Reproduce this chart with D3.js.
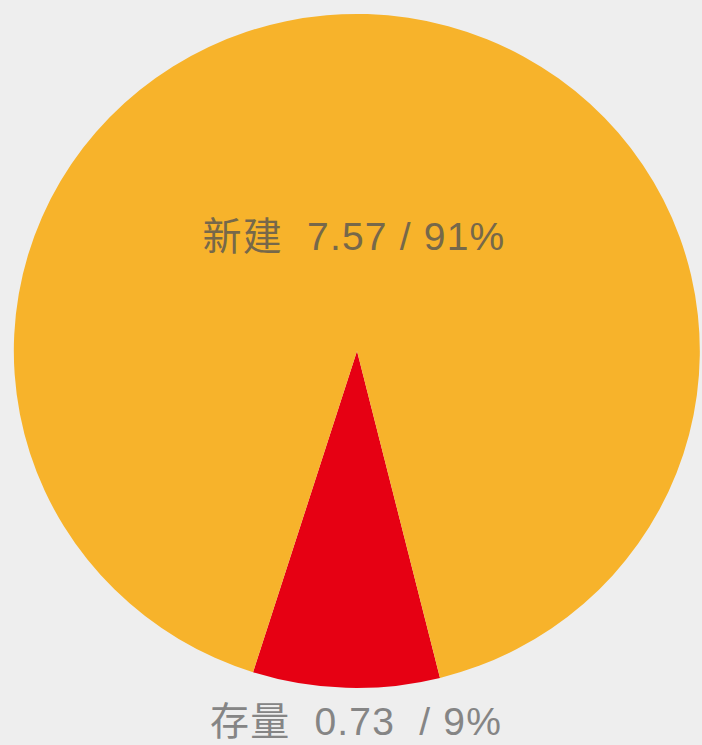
<!DOCTYPE html>
<html lang="zh">
<head>
  <meta charset="UTF-8">
  <title>新建 / 存量</title>
  <style>
    * { margin: 0; padding: 0; }
    body { background: #eeeeee; width: 702px; height: 745px; overflow: hidden; }
    svg { display: block; }
    .lbl { font-family: "Liberation Sans", Arial, "Noto Sans CJK SC", sans-serif; white-space: pre; text-anchor: middle; letter-spacing: 1.2px; }
  </style>
  <script src="https://cdn.jsdelivr.net/npm/d3@7/dist/d3.min.js"></script>
</head>
<body>
  <svg id="chart" width="702" height="745"></svg>
  <script>
    // data
    const categories = ['存量', '新建'];
    const values = [0.73, 7.57];
    const percents = ['9%', '91%'];
    const colors = ['#e60013', '#f7b32b'];

    const width = 702, height = 745;
    const cx = 357, cy = 351, rx = 343, ry = 337;

    const svg = d3.select('#chart');

    const pie = d3.pie().sort(null)
      .startAngle(166 * Math.PI / 180)
      .endAngle(166 * Math.PI / 180 + 2 * Math.PI);
    const arcs = pie(values);
    const arc = d3.arc().innerRadius(0).outerRadius(1);

    // pie is slightly wider than tall in the picture
    svg.append('g')
      .attr('transform', `translate(${cx},${cy}) scale(${rx},${ry})`)
      .selectAll('path')
      .data(arcs)
      .join('path')
      .attr('d', arc)
      .attr('fill', (d, i) => colors[i]);

    // labels
    svg.append('text')
      .attr('class', 'lbl')
      .attr('x', 354).attr('y', 250)
      .attr('font-size', 39)
      .attr('fill', '#76684a')
      .text(`${categories[1]}  ${values[1].toFixed(2)} / ${percents[1]}`);

    svg.append('text')
      .attr('class', 'lbl')
      .attr('x', 356).attr('y', 735)
      .attr('font-size', 39)
      .attr('fill', '#858585')
      .text(`${categories[0]}  ${values[0].toFixed(2)}  / ${percents[0]}`);
  </script>
</body>
</html>
